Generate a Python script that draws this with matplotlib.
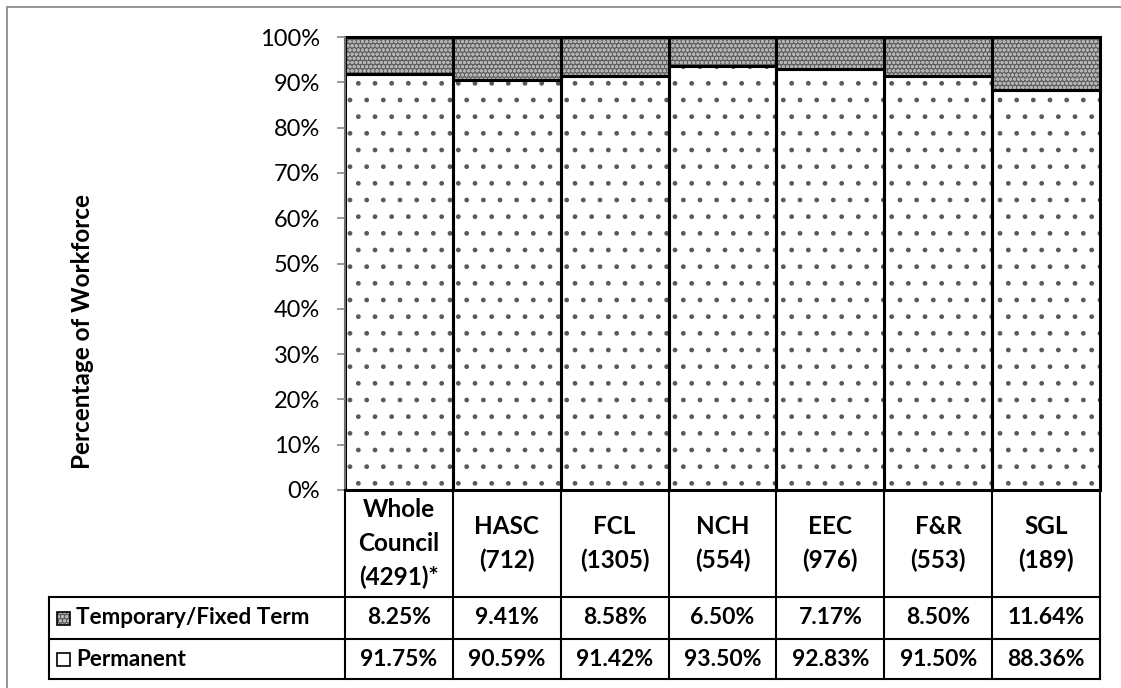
import matplotlib
matplotlib.use("Agg")
import matplotlib.pyplot as plt
import matplotlib.transforms as mtransforms
from matplotlib.patches import Rectangle
from matplotlib.lines import Line2D

# ---- data -------------------------------------------------------------
categories = ["Whole\nCouncil\n(4291)*", "HASC\n(712)", "FCL\n(1305)", "NCH\n(554)",
              "EEC\n(976)", "F&R\n(553)", "SGL\n(189)"]
temporary = [8.25, 9.41, 8.58, 6.50, 7.17, 8.50, 11.64]
permanent = [91.75, 90.59, 91.42, 93.50, 92.83, 91.50, 88.36]
series_names = ["Temporary/Fixed Term", "Permanent"]
y_ticks = list(range(0, 101, 10))
y_title = "Percentage of Workforce"

# ---- styling ----------------------------------------------------------
plt.rcParams['font.family'] = ['Lato', 'DejaVu Sans']
plt.rcParams['hatch.linewidth'] = 1.0

W, H = 1121, 688
fig = plt.figure(figsize=(W / 100, H / 100), dpi=100)


def fx(px):
    return px / W


def fy(py):
    return 1 - py / H


TEMP_FACE, TEMP_HATCH = '#5e5e5e', '#b4b4b4'
PLOT_L, PLOT_R, PLOT_T, PLOT_B = 345, 1100, 37, 490

ax = fig.add_axes([fx(PLOT_L), fy(PLOT_B), fx(PLOT_R) - fx(PLOT_L),
                   fy(PLOT_T) - fy(PLOT_B)])
x = list(range(len(categories)))

# filled, textured bars
ax.bar(x, permanent, width=1.0, color='white', edgecolor='#5a5a5a',
       hatch='.', linewidth=0)
ax.bar(x, temporary, bottom=permanent, width=1.0, color=TEMP_FACE,
       edgecolor=TEMP_HATCH, hatch='oooo', linewidth=0)
# black outlines on top
ax.bar(x, permanent, width=1.0, fill=False, edgecolor='black',
       linewidth=2.2, clip_on=False)
ax.bar(x, temporary, bottom=permanent, width=1.0, fill=False,
       edgecolor='black', linewidth=2.2, clip_on=False)

ax.set_xlim(-0.5, len(categories) - 0.5)
ax.set_ylim(0, 100)
ax.set_yticks(y_ticks)
ax.set_yticklabels([f"{t}%" for t in y_ticks])
ax.set_xticks([])
for s in ('top', 'right', 'bottom'):
    ax.spines[s].set_visible(False)
ax.spines['left'].set_color('#868686')
ax.spines['left'].set_linewidth(1.2)
ax.tick_params(axis='y', direction='out', length=6, width=1.2, color='#868686',
               labelsize=17, pad=12)

fig.text(fx(83), fy(331), y_title, rotation=90, ha='center', va='center',
         fontsize=17.5, fontweight='bold')

# ---- data table below the plot ---------------------------------------
trans = mtransforms.blended_transform_factory(ax.transData, fig.transFigure)
rows_y = [PLOT_B, 597, 639, 679]
left_px = 49
lw_tab = 1.5

# horizontal rules
for yy in rows_y[1:]:
    fig.add_artist(Line2D([fx(left_px), fx(PLOT_R)], [fy(yy), fy(yy)],
                          color='black', lw=lw_tab))
# vertical rules between categories
for i in range(len(categories) + 1):
    xe = i - 0.5
    fig.add_artist(Line2D([xe, xe], [fy(rows_y[0]), fy(rows_y[-1])],
                          transform=trans, color='black', lw=lw_tab))
fig.add_artist(Line2D([fx(left_px), fx(left_px)], [fy(rows_y[1]), fy(rows_y[-1])],
                      color='black', lw=lw_tab))

# category headers
for i, c in enumerate(categories):
    fig.text(i, fy((rows_y[0] + rows_y[1]) / 2), c, transform=trans,
             ha='center', va='center', fontsize=17.5, fontweight='bold',
             linespacing=1.55)

# value rows
for r, vals in enumerate([temporary, permanent]):
    yc = fy((rows_y[r + 1] + rows_y[r + 2]) / 2)
    for i, v in enumerate(vals):
        fig.text(i, yc, f"{v:.2f}%", transform=trans, ha='center',
                 va='center', fontsize=16.5, fontweight='bold')
    # legend key + row name
    key_h = 13 / H
    key_w = 13 / W
    if r == 0:
        key = Rectangle((fx(57), yc - key_h / 2), key_w, key_h,
                        transform=fig.transFigure, facecolor=TEMP_FACE,
                        edgecolor=TEMP_HATCH, hatch='oooo', lw=0)
        fig.add_artist(key)
    key2 = Rectangle((fx(57), yc - key_h / 2), key_w, key_h,
                     transform=fig.transFigure, fill=(r == 1),
                     facecolor='white', edgecolor='black', lw=1.2)
    fig.add_artist(key2)
    fig.text(fx(76), yc, series_names[r], ha='left', va='center',
             fontsize=16.2, fontweight='bold')

# chart-area frame
fig.add_artist(Rectangle((fx(7), -0.2), 1.5, fy(7) + 0.2,
                         transform=fig.transFigure, fill=False,
                         edgecolor='#8c8c8c', lw=1.3))

fig.savefig("out.png", dpi=100)
